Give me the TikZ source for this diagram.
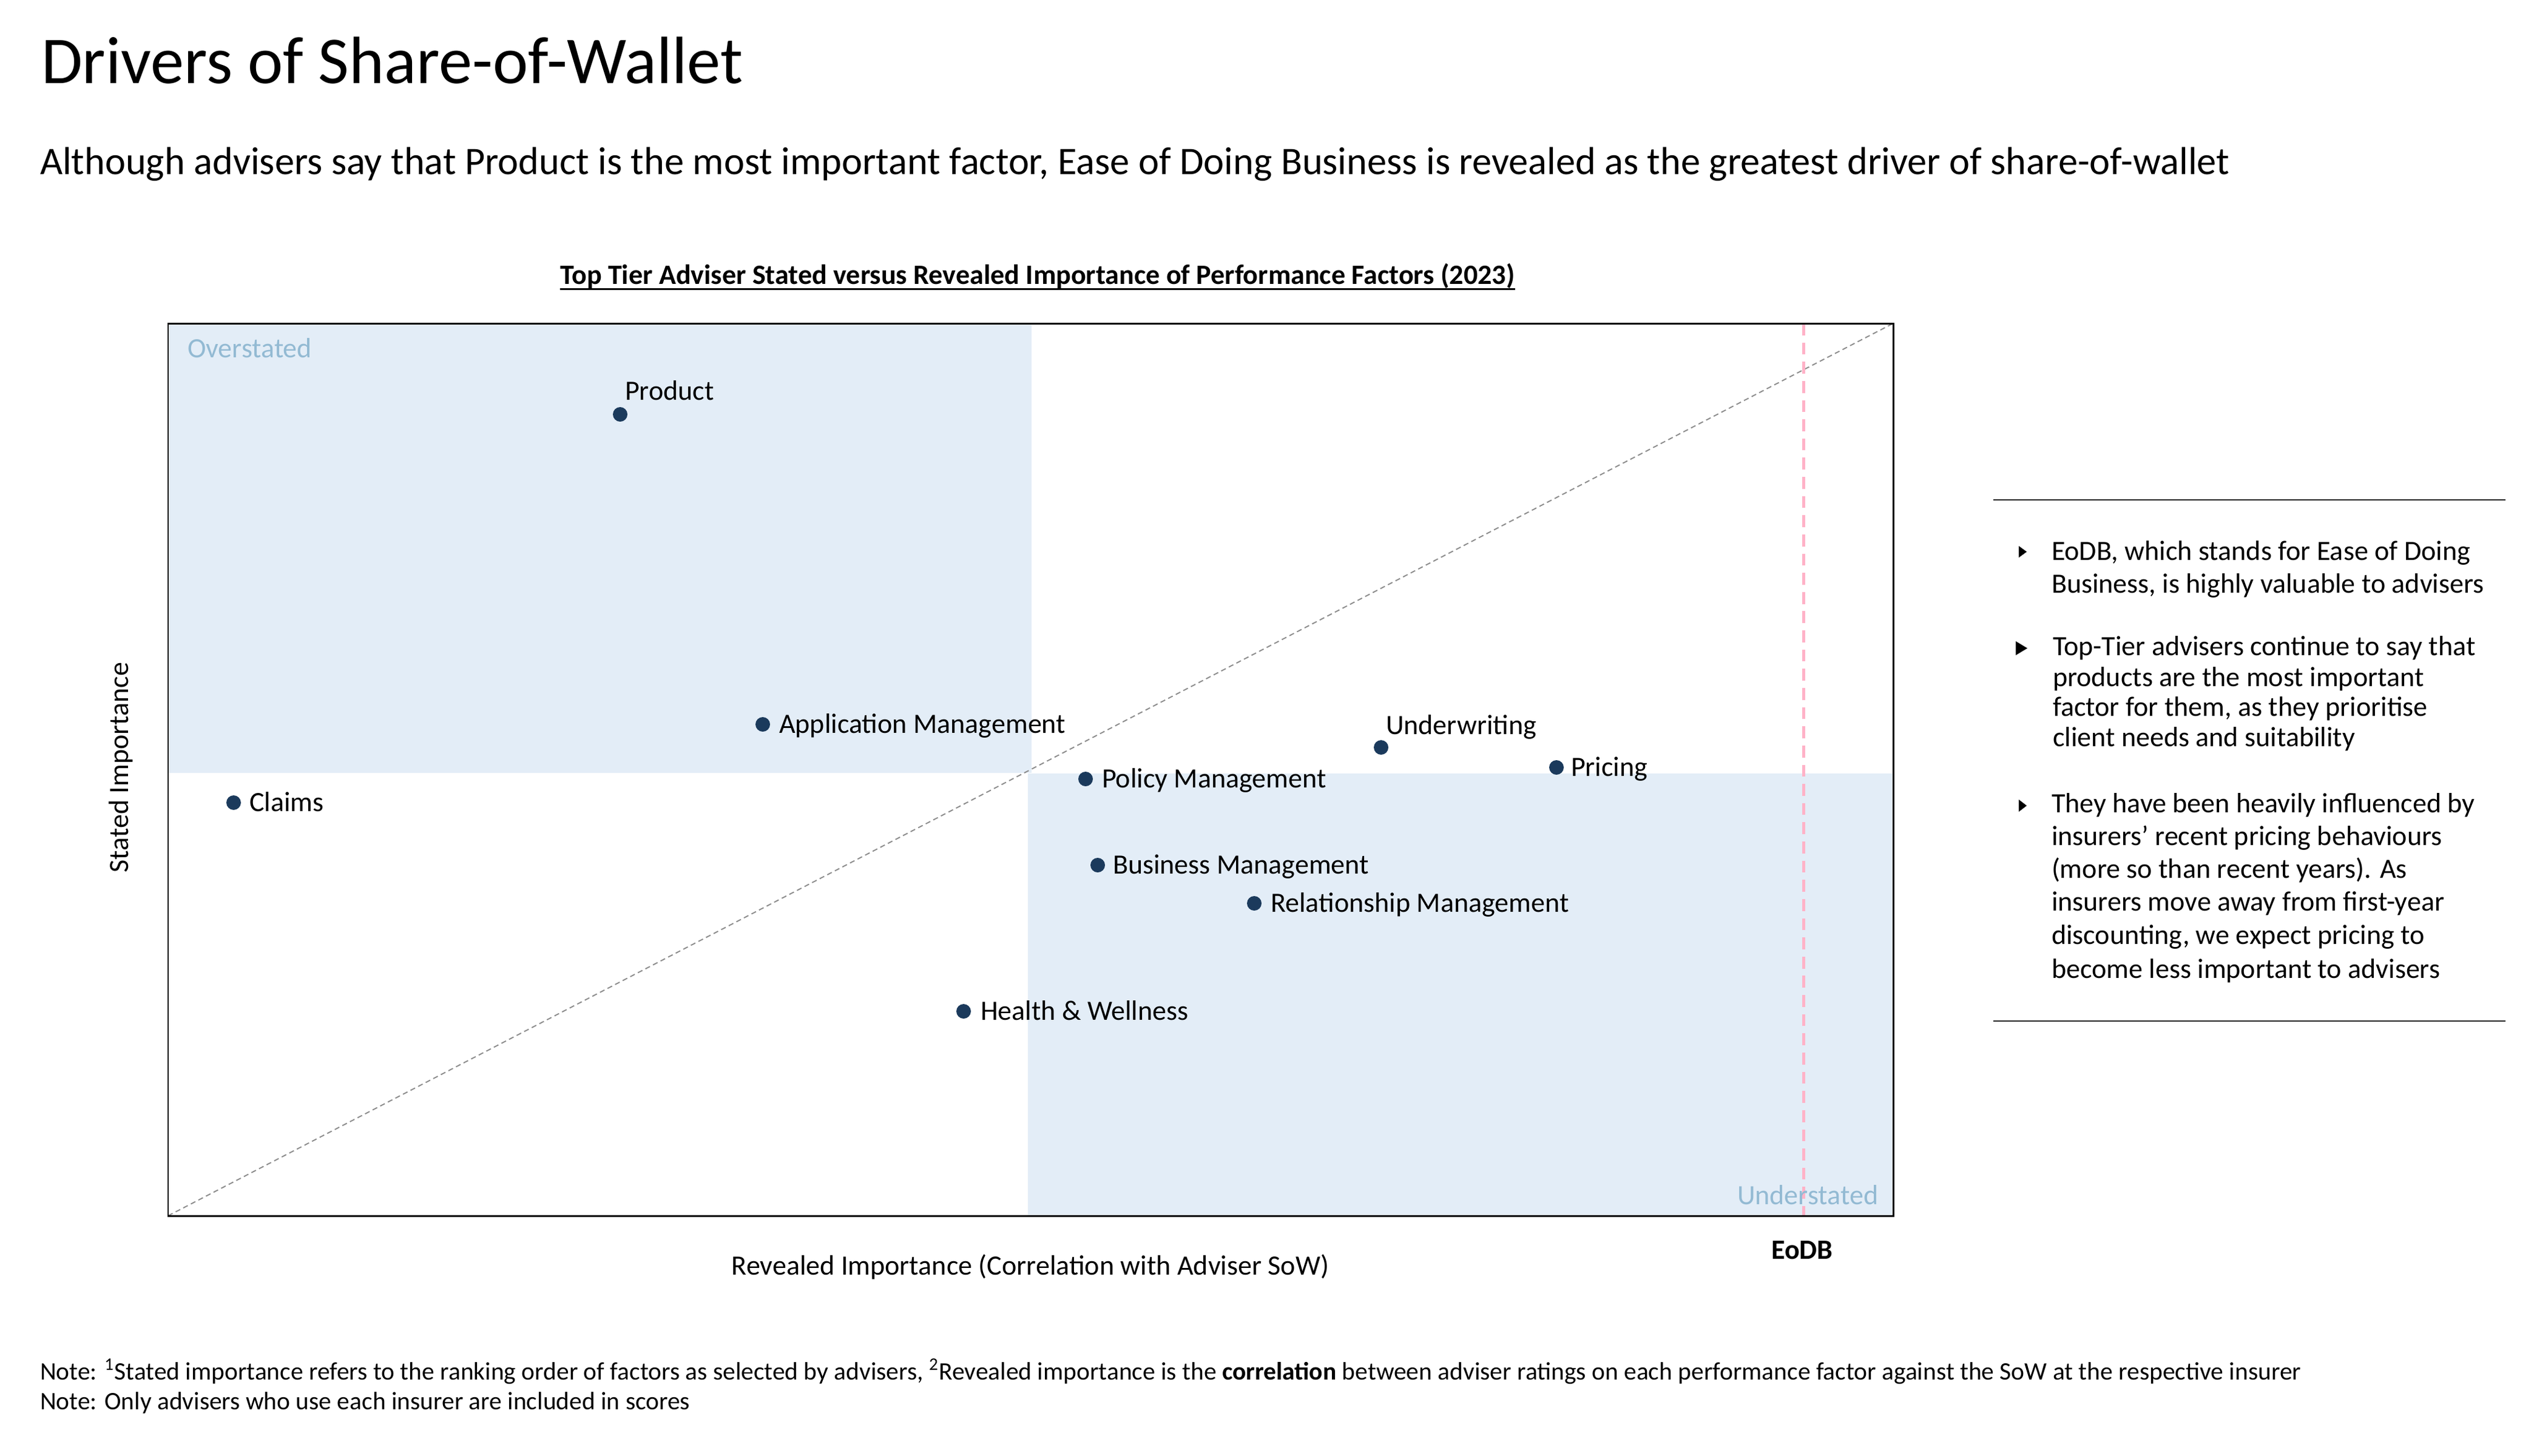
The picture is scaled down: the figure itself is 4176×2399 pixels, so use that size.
\documentclass[tikz,border=0pt]{standalone}
\usepackage{fontspec}
\setmainfont{Carlito}
\usetikzlibrary{calc}
\definecolor{regionblue}{HTML}{E3EDF7}
\definecolor{regiontext}{HTML}{93BAD3}
\definecolor{dotnavy}{HTML}{1B3A5C}
\definecolor{eodbpink}{HTML}{FFB3C8}
\definecolor{diaggray}{HTML}{8C8C8C}
\begin{document}
\begin{tikzpicture}[x=0.1mm,y=-0.1mm,
  txt/.style={anchor=base west, inner sep=0pt, outer sep=0pt},
  titletext/.style={txt, font=\fontsize{31.4}{37}\selectfont},
  subtext/.style={txt, font=\fontsize{18.3}{22}\selectfont},
  ctitletext/.style={anchor=base, inner sep=0pt, font=\bfseries\fontsize{13.1}{16}\selectfont},
  ptdot/.style={circle, fill=dotnavy, draw=none, inner sep=0pt, minimum size=2.4mm},
  ptlabel/.style={txt, font=\fontsize{13.1}{16}\selectfont},
  regionlabel/.style={txt, text=regiontext, font=\fontsize{13.1}{16}\selectfont},
  axislabel/.style={anchor=base, inner sep=0pt, font=\fontsize{13.1}{16}\selectfont},
  paneltext/.style={txt, font=\fontsize{13.1}{16}\selectfont},
  notetext/.style={txt, font=\fontsize{11.8}{14}\selectfont},
  bulletmark/.style={fill=black},
  rulestyle/.style={line width=0.8pt, draw=black!85}
]
\useasboundingbox (0,0) rectangle (4176,2399);

% titles
\node[titletext] (title) at (68,137) {Drivers of Share-of-Wallet};
\node[subtext] (subtitle) at (66,287) {Although advisers say that Product is the most important factor, Ease of Doing Business is revealed as the greatest driver of share-of-wallet};
\node[ctitletext] (ctitle) at (1710,468) {Top Tier Adviser Stated versus Revealed Importance of Performance Factors (2023)};
\draw[line width=0.85pt] ($(ctitle.base west)+(0,8)$) -- ($(ctitle.base east)+(0,8)$);

% plot regions
\fill[regionblue] (277,533) rectangle (1700,1274);
\fill[regionblue] (1694,1275) rectangle (3122,2006);

% frame corners
\coordinate (bl) at (277,2004);
\coordinate (tr) at (3120,533);
\coordinate (eodbtop) at (2972,533);
\coordinate (eodbbot) at (2972,2004);

\draw[diaggray, dashed, dash pattern=on 2.4pt off 1.6pt, line width=0.55pt] (bl) -- (tr);
\draw[eodbpink, line width=1.4pt, dash pattern=on 5.6pt off 3.4pt] (eodbtop) -- (eodbbot);
\draw[line width=0.85pt] (277,533) rectangle (3120,2004);

\node[regionlabel] (over) at (309,589) {Overstated};
\node[regionlabel] (under) at (2863,1985) {Understated};

% points
\node[ptdot] (dProduct) at (1022,683) {};
\node[ptlabel] (lProduct) at (1030,659) {Product};
\node[ptdot] (dApp) at (1257,1194) {};
\node[ptlabel] (lApp) at (1284,1208) {Application Management};
\node[ptdot] (dClaims) at (385,1323) {};
\node[ptlabel] (lClaims) at (411,1337) {Claims};
\node[ptdot] (dPolicy) at (1789,1284) {};
\node[ptlabel] (lPolicy) at (1816,1298) {Policy Management};
\node[ptdot] (dUnder) at (2276,1232) {};
\node[ptlabel] (lUnder) at (2284,1210) {Underwriting};
\node[ptdot] (dPricing) at (2565,1265) {};
\node[ptlabel] (lPricing) at (2589,1279) {Pricing};
\node[ptdot] (dBusiness) at (1809,1426) {};
\node[ptlabel] (lBusiness) at (1834,1440) {Business Management};
\node[ptdot] (dRel) at (2067,1489) {};
\node[ptlabel] (lRel) at (2094,1503) {Relationship Management};
\node[ptdot] (dHealth) at (1588,1667) {};
\node[ptlabel] (lHealth) at (1616,1681) {Health \& Wellness};

% axis labels
\node[axislabel] (xlab) at (1698,2101) {Revealed Importance (Correlation with Adviser SoW)};
\node[axislabel, rotate=90] (ylab) at (211,1265) {Stated Importance};
\node[anchor=base, inner sep=0pt, font=\bfseries\fontsize{13.1}{16}\selectfont] (eodb) at (2970,2075) {EoDB};

% right panel
\coordinate (r1a) at (3285,824);
\coordinate (r1b) at (4129,824);
\coordinate (r2a) at (3285,1683);
\coordinate (r2b) at (4129,1683);
\draw[rulestyle] (r1a) -- (r1b);
\draw[rulestyle] (r2a) -- (r2b);

\fill[bulletmark] (3327,900) -- (3340,909.5) -- (3327,919) -- cycle;
\fill[bulletmark] (3322,1057) -- (3341,1068.5) -- (3322,1080) -- cycle;
\fill[bulletmark] (3327,1318) -- (3340,1328) -- (3327,1338) -- cycle;

\node[paneltext] (p1a) at (3381,923) {EoDB, which stands for Ease of Doing};
\node[paneltext] (p1b) at (3381,977) {Business, is highly valuable to advisers};
\node[paneltext] (p2a) at (3383,1080) {Top-Tier advisers continue to say that};
\node[paneltext] (p2b) at (3383,1131) {products are the most important};
\node[paneltext] (p2c) at (3383,1180) {factor for them, as they prioritise};
\node[paneltext] (p2d) at (3383,1230) {client needs and suitability};
\node[paneltext] (p3a) at (3381,1339) {They have been heavily influenced by};
\node[paneltext] (p3b) at (3381,1393) {insurers’ recent pricing behaviours};
\node[paneltext] (p3c) at (3381,1447) {(more so than recent years). As};
\node[paneltext] (p3d) at (3381,1501) {insurers move away from first-year};
\node[paneltext] (p3e) at (3381,1556) {discounting, we expect pricing to};
\node[paneltext] (p3f) at (3381,1612) {become less important to advisers};

% notes
\node[notetext] (note1) at (66,2274) {Note: \textsuperscript{1}Stated importance refers to the ranking order of factors as selected by advisers, \textsuperscript{2}Revealed importance is the \textbf{correlation} between adviser ratings on each performance factor against the SoW at the respective insurer};
\node[notetext] (note2) at (66,2323) {Note: Only advisers who use each insurer are included in scores};
\end{tikzpicture}
\end{document}
